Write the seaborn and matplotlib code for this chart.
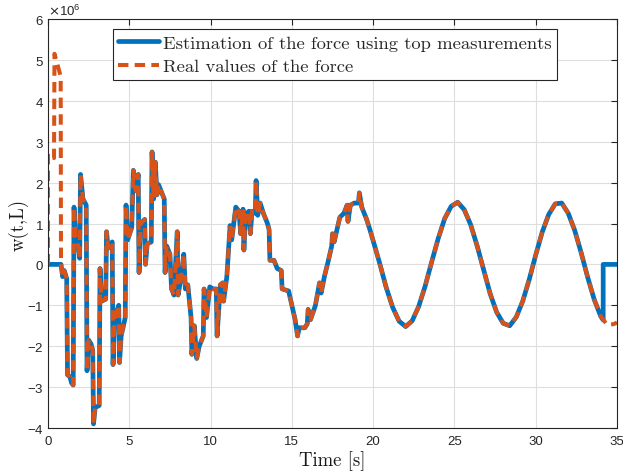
import numpy as np
import pandas as pd
import matplotlib
matplotlib.use("Agg")
import matplotlib.pyplot as plt
from matplotlib.ticker import ScalarFormatter
import seaborn as sns

# ---------------- data (values in units of 10^6) ----------------
SCALE = 1e6

# start of the estimated force (blue) before joining the common part
t_est_head = [0.0, 0.8]
w_est_head = [0.0, 0.0]

# start of the real force (orange)
t_real_head = [0.0, 0.0, 0.37, 0.40, 0.78, 0.80]
w_real_head = [0.0, 2.7, 2.6, 5.15, 4.6, 0.0]

# common noisy part (both series)
t_mid = [0.8, 0.9, 1.0, 1.15, 1.2, 1.35, 1.45, 1.55, 1.6, 1.7, 1.85, 1.95,
         2.0, 2.15, 2.35, 2.4, 2.5, 2.65, 2.75, 2.8, 2.9, 3.15, 3.2, 3.3,
         3.55, 3.6, 3.7, 3.95, 4.0, 4.1, 4.35, 4.4, 4.5, 4.75, 4.8, 4.9,
         5.15, 5.25, 5.4, 5.55, 5.6, 5.7, 5.95, 6.0, 6.1, 6.35, 6.4, 6.5,
         6.6, 6.7, 6.8, 7.15, 7.2, 7.3, 7.5, 7.6, 7.75, 7.95, 8.0, 8.2,
         8.35, 8.45, 8.6, 8.8, 8.85, 9.0, 9.15, 9.3, 9.55, 9.6, 9.75, 9.95,
         10.15, 10.35, 10.4, 10.6, 10.75, 10.8, 11.0, 11.2, 11.3, 11.55, 11.75, 11.85,
         12.0, 12.05, 12.15, 12.35, 12.45, 12.55, 12.75, 12.8, 12.9, 13.05, 13.25, 13.5,
         13.6, 13.65, 13.9, 14.1, 14.35, 14.4, 14.8, 15.0, 15.2, 15.35, 15.45, 15.8,
         15.95, 16.0, 16.15, 16.45, 16.7, 16.8, 17.0, 17.25, 17.45, 17.5, 17.6, 17.95,
         18.2, 18.4, 18.45, 18.6, 18.85, 19.1, 19.15, 19.3, 19.6, 19.8]
w_mid = [0.0, -0.3, -0.15, -0.35, -2.7, -2.75, -2.9, -2.95, 1.4, 0.7, 0.45, 0.15,
         2.2, 1.6, 1.45, -2.6, -1.85, -1.95, -2.1, -3.9, -3.5, -3.45, -0.1, -0.9,
         -0.85, 0.8, 0.4, 0.55, -2.45, -1.3, -1.0, -2.4, -1.75, -1.3, 1.45, 0.6,
         0.9, 2.3, 1.8, 2.2, -0.2, 1.0, 1.1, 0.0, 0.5, 0.55, 2.75, 1.6,
         2.5, 1.7, 1.95, 1.6, -0.2, 0.45, 0.25, -0.6, -0.75, 0.8, -0.75, -0.3,
         0.25, -0.6, -0.5, -1.3, -2.2, -1.5, -2.3, -2.0, -1.75, -0.6, -1.3, -0.55,
         -0.6, -0.6, -1.75, -0.5, -0.45, -0.9, -0.3, 0.95, 0.6, 1.4, 1.3, 0.75,
         1.35, 0.35, 1.2, 1.3, 0.75, 1.3, 1.25, 2.05, 1.2, 1.5, 1.25, 1.0,
         0.85, 0.1, 0.1, -0.1, -0.15, -0.6, -0.65, -1.0, -1.35, -1.75, -1.55, -1.55,
         -1.45, -1.1, -1.35, -1.0, -0.45, -0.7, -0.3, 0.1, 0.45, 0.75, 0.55, 1.15,
         1.25, 1.45, 1.05, 1.45, 1.5, 1.5, 1.75, 1.4, 1.1, 0.85]

# common smooth oscillating part
t_wave = [20.0, 20.4, 20.8, 21.2, 21.6, 22.0, 22.4, 22.8, 23.2, 23.6, 24.0, 24.4,
          24.8, 25.2, 25.6, 26.0, 26.4, 26.8, 27.2, 27.6, 28.0, 28.4, 28.8, 29.2,
          29.6, 30.0, 30.4, 30.8, 31.2, 31.6, 32.0, 32.4, 32.8, 33.2, 33.6, 34.0]
w_wave = [0.58, 0.03, -0.56, -1.05, -1.39, -1.52, -1.38, -1.03, -0.53, 0.06, 0.63, 1.12,
          1.42, 1.52, 1.34, 0.97, 0.45, -0.14, -0.72, -1.17, -1.44, -1.5, -1.29, -0.9,
          -0.37, 0.23, 0.79, 1.22, 1.48, 1.5, 1.25, 0.83, 0.28, -0.32, -0.86, -1.27]

# end of each series
t_est_tail = [34.15, 34.15, 35.0]
w_est_tail = [-1.36, 0.0, 0.0]
t_real_tail = [34.4, 34.8, 35.0]
w_real_tail = [-1.48, -1.46, -1.42]

labels = ["Estimation of the force using top measurements", "Real values of the force"]
x_ticks = [0, 5, 10, 15, 20, 25, 30, 35]
y_ticks = [-4, -3, -2, -1, 0, 1, 2, 3, 4, 5, 6]

# ---------------- build tables ----------------
est = pd.DataFrame({
    "t": t_est_head + t_mid[1:] + t_wave + t_est_tail,
    "w": np.array(w_est_head + w_mid[1:] + w_wave + w_est_tail) * SCALE,
})
real = pd.DataFrame({
    "t": t_real_head + t_mid[1:] + t_wave + t_real_tail,
    "w": np.array(w_real_head + w_mid[1:] + w_wave + w_real_tail) * SCALE,
})

# ---------------- style ----------------
sns.set_theme(style="whitegrid")
plt.rcParams["font.family"] = ["Liberation Sans", "DejaVu Sans"]
plt.rcParams["lines.scale_dashes"] = False
plt.rcParams["axes.unicode_minus"] = False

BLUE = "#0072BD"
ORANGE = "#D95319"

fig = plt.figure(figsize=(6.23, 4.77), dpi=100)
ax = fig.add_axes([48 / 623, 1 - 429 / 477, 569 / 623, 409 / 477])
ax.set_facecolor("white")

sns.lineplot(data=est, x="t", y="w", sort=False, estimator=None, ax=ax,
             color=BLUE, linewidth=3.4, label=labels[0],
             solid_capstyle="round", solid_joinstyle="round")
sns.lineplot(data=real, x="t", y="w", sort=False, estimator=None, ax=ax,
             color=ORANGE, linewidth=2.9, label=labels[1],
             linestyle=(0, (7.5, 4.5)), dash_capstyle="butt", dash_joinstyle="round")

ax.set_xlim(0, 35)
ax.set_ylim(-4 * SCALE, 6 * SCALE)
ax.set_xticks(x_ticks)
ax.set_yticks([v * SCALE for v in y_ticks])
fmt = ScalarFormatter(useMathText=True)
fmt.set_powerlimits((0, 0))
ax.yaxis.set_major_formatter(fmt)
ax.yaxis.get_offset_text().set_fontsize(9.5)
ax.yaxis.get_offset_text().set_color("#262626")

ax.grid(True, color="#dedede", linewidth=0.8)
for s in ax.spines.values():
    s.set_visible(True)
    s.set_color("#262626")
    s.set_linewidth(0.8)
ax.tick_params(axis="both", which="both", direction="in", length=4.5, width=0.8,
               colors="#262626", labelsize=9.5, top=True, right=True,
               labeltop=False, labelright=False, pad=3)
ax.tick_params(axis="x", pad=5)

ax.set_xlabel("Time [s]", fontfamily="cmr10", fontsize=13.5, labelpad=2, color="#1a1a1a")
ax.set_ylabel("w(t,L)", fontfamily="cmr10", fontsize=13.5, labelpad=-1, color="#1a1a1a")

leg = ax.legend(loc="upper left", bbox_to_anchor=(0.114, 0.975), borderaxespad=0,
                prop={"family": "cmr10", "size": 13.4}, frameon=True, fancybox=False,
                handlelength=2.2, handletextpad=0.2, borderpad=0.3, labelspacing=0.4,
                framealpha=1)
leg.get_frame().set_edgecolor("#262626")
leg.get_frame().set_linewidth(0.8)

fig.savefig("out.png", dpi=100)
